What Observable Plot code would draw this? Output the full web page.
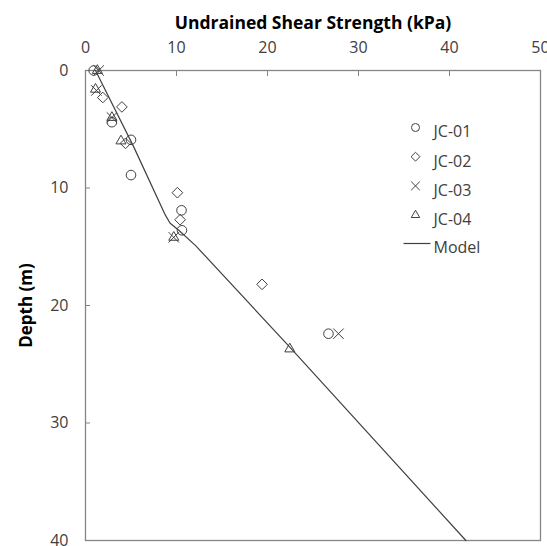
<!DOCTYPE html>
<html>
<head>
<meta charset="utf-8">
<script src="https://cdn.jsdelivr.net/npm/d3@7"></script>
<script src="https://cdn.jsdelivr.net/npm/@observablehq/plot@0.6"></script>
<style>
  html, body { margin: 0; padding: 0; background: #fff; }
  #chart svg { font-family: "Open Sans", Lato, sans-serif; overflow: visible; }
  #chart g[aria-label="y-axis label"] text { font-weight: bold; font-size: 17px; fill: #000; }
</style>
</head>
<body>
<div id="chart"></div>
<script>
const xTicks = [0, 10, 20, 30, 40, 50];
const yTicks = [0, 10, 20, 30, 40];
const xTitle = "Undrained Shear Strength (kPa)";
const yTitle = "Depth (m)";

const jc01X = [0.9, 2.9, 5.0, 5.0, 10.55, 10.6, 26.7];
const jc01D = [0, 4.4, 5.9, 8.9, 11.9, 13.6, 22.4];
const jc02X = [1.9, 4.0, 4.4, 10.1, 10.4, 19.4];
const jc02D = [2.3, 3.1, 6.2, 10.4, 12.7, 18.2];
const jc03X = [1.45, 1.2, 2.9, 9.7, 27.8];
const jc03D = [0, 1.7, 4.0, 14.2, 22.4];
const jc04X = [1.3, 1.1, 2.9, 3.9, 9.7, 22.45];
const jc04D = [0, 1.6, 4.0, 6.0, 14.2, 23.7];
const modelX = [1.1, 5.3, 8.7, 9.3, 10.25, 12.1, 22.4, 41.8];
const modelD = [0, 6.5, 12.2, 13.0, 13.6, 14.9, 23.5, 40];

const seriesNames = ["JC-01", "JC-02", "JC-03", "JC-04"];
const seriesSymbols = ["circle", "diamond2", "times", "triangle2"];
const seriesX = [jc01X, jc02X, jc03X, jc04X];
const seriesD = [jc01D, jc02D, jc03D, jc04D];

const points = seriesNames.flatMap((name, i) =>
  seriesX[i].map((x, j) => ({series: name, symbol: seriesSymbols[i], x, d: seriesD[i][j]})));
const model = modelX.map((x, i) => ({x, d: modelD[i]}));

const ink = "#404040";
const axisGray = "#868686";
const lineSymbol = {draw(ctx, size) { ctx.moveTo(-13.5, 0); ctx.lineTo(13.5, 0); }};

const legendMarks = [];
seriesNames.forEach((name, i) => {
  legendMarks.push(Plot.dot([name], {frameAnchor: "top-left", dx: 330, dy: 57 + i * 29.2, symbol: () => seriesSymbols[i], r: 4, stroke: ink, strokeWidth: 1, fill: "none"}));
  legendMarks.push(Plot.text([name], {frameAnchor: "top-left", dx: 348, dy: 55.5 + i * 29.2, text: d => d, textAnchor: "start", fontSize: 16, fill: ink}));
});
legendMarks.push(Plot.dot(["Model"], {frameAnchor: "top-left", dx: 331.5, dy: 173, symbol: () => lineSymbol, stroke: ink, strokeWidth: 1.2}));
legendMarks.push(Plot.text(["Model"], {frameAnchor: "top-left", dx: 348, dy: 171.5, text: d => d, textAnchor: "start", fontSize: 16, fill: ink}));

const chart = Plot.plot({
  width: 547,
  height: 546,
  marginLeft: 85,
  marginRight: 7,
  marginTop: 70,
  marginBottom: 6,
  style: {fontSize: "16px", color: ink, background: "#fff", overflow: "visible"},
  x: {domain: [0, 50]},
  y: {domain: [0, 40], reverse: true},
  marks: [
    Plot.frame({stroke: axisGray, strokeWidth: 1.3}),
    Plot.axisX(xTicks, {anchor: "top", tickSize: -5, text: null, label: null, stroke: axisGray}),
    Plot.axisX(xTicks, {anchor: "top", tickSize: 0, tickPadding: 18, label: null, fill: ink}),
    Plot.axisY(yTicks, {anchor: "left", tickSize: -5, text: null, label: null, stroke: axisGray}),
    Plot.axisY(yTicks, {anchor: "left", tickSize: 0, tickPadding: 17, label: yTitle, labelArrow: "none", labelAnchor: "center", labelOffset: 66, fill: ink}),
    Plot.text([xTitle], {frameAnchor: "top", dy: -54, text: d => d, fontSize: 17.5, fontWeight: "bold", fill: "#000"}),
    Plot.line(model, {x: "x", y: "d", stroke: ink, strokeWidth: 1.2}),
    Plot.dot(points, {x: "x", y: "d", symbol: "symbol", r: 4.8, stroke: ink, strokeWidth: 1, fill: "none"}),
    ...legendMarks
  ]
});
document.getElementById("chart").append(chart);
</script>
</body>
</html>
